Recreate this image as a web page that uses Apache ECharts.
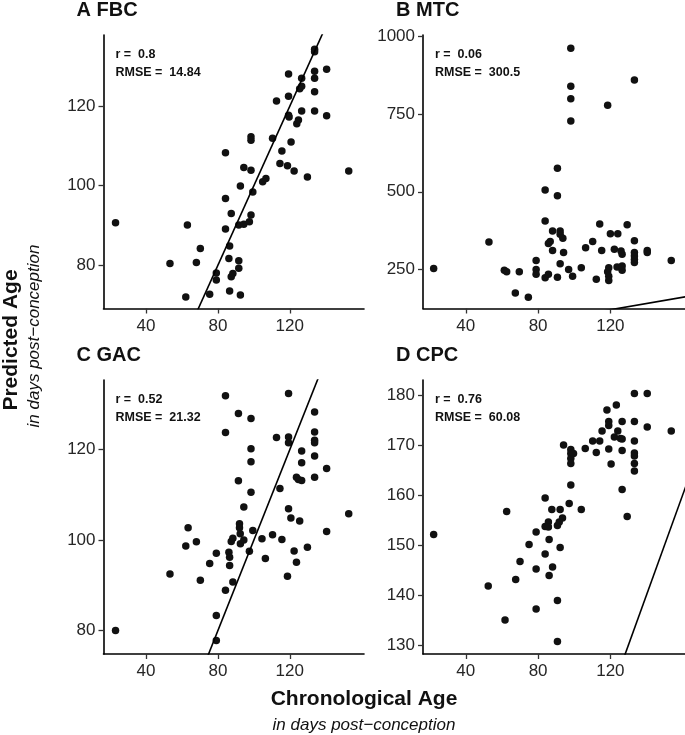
<!DOCTYPE html>
<html>
<head>
<meta charset="utf-8">
<script src="https://cdn.jsdelivr.net/npm/echarts@6/dist/echarts.min.js"></script>
<style>
html,body{margin:0;padding:0;background:#fff;}
#chart{width:685px;height:735px;}
</style>
</head>
<body>
<div id="chart"></div>
<script>
// ---------- data ----------
const panelTitles = ['A FBC', 'B MTC', 'C GAC', 'D CPC'];
const rValues = ['0.8', '0.06', '0.52', '0.76'];
const rmseValues = ['14.84', '300.5', '21.32', '60.08'];
const xTicks = [40, 80, 120];
const yTicksA = [80, 100, 120];
const yTicksB = [250, 500, 750, 1000];
const yTicksC = [80, 100, 120];
const yTicksD = [130, 140, 150, 160, 170, 180];

const fbcAge = [23.0,53.3,63.0,62.1,68.0,70.2,75.4,79.1,79.1,84.2,84.2,84.2,86.5,86.1,86.5,87.4,87.4,88.3,92.5,91.6,91.6,91.6,92.5,94.4,94.4,97.5,98.4,98.4,98.4,98.4,99.4,104.9,106.7,110.4,112.6,114.5,115.6,118.7,119.3,119.3,119.3,119.6,120.7,122.4,123.9,124.8,125.5,126.6,126.6,126.6,129.8,133.8,133.8,133.8,133.8,133.8,133.8,140.5,140.5,152.8];
const fbcPred = [90.7,80.4,90.1,72.0,80.7,84.2,72.7,78.0,76.3,108.3,96.8,89.1,84.8,81.7,73.5,93.0,77.1,77.9,99.9,90.1,81.1,79.2,72.5,104.6,90.3,90.9,92.6,103.9,112.3,111.4,98.4,101.0,101.8,111.9,121.3,105.6,108.7,105.0,128.1,122.5,117.7,117.3,111.0,103.7,115.6,116.5,124.4,125.0,127.0,118.8,102.2,134.3,133.7,128.8,127.0,123.6,118.8,129.3,117.6,103.7];

const mtcAge = [22.2,52.8,61.3,62.6,69.6,67.4,74.6,78.9,78.9,78.9,83.9,83.9,83.9,85.7,85.7,86.7,88.0,88.0,90.7,90.7,90.7,92.2,92.2,92.2,93.7,94.1,96.9,98.1,98.1,98.1,98.1,99.1,103.9,106.3,110.2,112.2,114.1,115.2,118.5,118.5,119.1,119.1,119.1,120.0,122.2,123.7,124.1,125.9,126.5,126.5,126.5,129.3,133.3,133.3,133.3,133.3,133.3,133.3,140.4,140.4,153.7];
const mtcPred = [253,338,247,242,242,174,160,279,250,234,506,406,223,234,333,340,374,311,576,487,225,374,363,268,350,304,250,962,840,800,728,228,255,320,340,218,396,311,779,242,255,228,214,365,315,258,365,309,299,247,261,394,860,342,304,293,282,272,311,304,279];

const gacAge = [23.0,53.3,62.1,63.4,68.0,70.2,75.4,79.1,79.1,79.1,84.2,84.2,84.2,86.1,86.5,86.5,87.4,88.3,88.3,91.4,91.4,92.0,92.0,92.4,92.5,94.4,94.4,97.5,98.4,98.4,98.4,98.4,99.4,104.5,106.4,110.4,112.6,114.5,115.6,118.7,119.3,119.3,119.3,119.3,120.6,122.4,123.7,123.7,124.8,125.5,126.6,126.6,126.6,129.8,133.8,133.8,133.8,133.8,133.8,133.8,140.5,140.5,152.8];
const gacPred = [80.0,92.5,98.7,102.7,99.6,91.1,94.8,97.1,83.3,77.8,131.9,123.8,88.9,97.3,96.2,94.4,99.7,100.4,90.7,128.0,113.1,103.6,102.7,101.4,99.2,107.3,100.0,97.5,126.9,120.2,117.3,110.6,102.1,100.3,95.9,101.2,122.7,111.4,100.1,92.0,132.4,122.8,121.5,106.9,104.9,97.6,95.1,113.9,113.4,104.2,119.7,117.1,113.2,98.4,128.3,123.9,122.1,121.5,118.6,113.9,115.8,101.9,105.8];

const cpcAge = [22.2,52.4,61.7,62.6,67.6,70.0,75.0,78.9,78.9,78.9,83.9,83.9,83.9,85.7,85.7,86.1,86.1,87.6,88.0,90.7,90.7,90.7,91.7,92.2,92.2,93.5,94.1,97.2,98.1,98.1,98.1,98.1,98.1,99.6,103.9,106.1,110.2,112.2,114.1,115.4,118.1,119.1,119.1,119.1,120.4,122.2,123.3,124.1,125.6,126.5,126.5,126.5,126.5,129.3,133.3,133.3,133.3,133.3,133.3,133.3,133.3,140.4,140.4,153.7];
const cpcPred = [152.1,141.8,135.0,156.7,143.1,146.7,150.1,152.6,145.2,137.2,159.4,153.7,148.2,154.6,153.6,151.1,143.9,157.1,145.6,153.9,138.9,130.7,154.6,157.1,149.5,155.4,170.0,158.3,169.1,168.3,167.3,166.3,162.0,168.3,157.1,169.3,170.8,168.5,170.8,172.8,177.0,174.7,173.9,169.2,166.2,171.6,178.0,172.8,171.3,174.7,171.2,168.9,161.1,155.7,180.3,174.7,170.8,168.4,167.8,166.3,164.8,180.3,173.6,172.8];

const xRange = [16.3, 161.3];
const yRangeA = [69.1, 137.9];
const yRangeB = [124, 1005];
const yRangeC = [74.8, 135.4];
const yRangeD = [128.2, 183.0];

// ---------- layout ----------
const FONT = "'Liberation Sans', Arial, Helvetica, sans-serif";
const grids = [
  {left: 103.5, top: 35, width: 260.5, height: 273.5},
  {left: 423, top: 35, width: 262, height: 273.5},
  {left: 103.5, top: 380, width: 260.5, height: 274},
  {left: 423, top: 380, width: 262, height: 274}
];
const panels = [
  {x: fbcAge, y: fbcPred, yr: yRangeA, yt: yTicksA},
  {x: mtcAge, y: mtcPred, yr: yRangeB, yt: yTicksB},
  {x: gacAge, y: gacPred, yr: yRangeC, yt: yTicksC},
  {x: cpcAge, y: cpcPred, yr: yRangeD, yt: yTicksD}
];

const axisLineStyle = {color: '#000', width: 1.6};
const xAxes = [], yAxes = [], series = [], graphics = [];
panels.forEach((p, i) => {
  xAxes.push({
    gridIndex: i, type: 'value', min: xRange[0], max: xRange[1],
    axisLine: {show: true, onZero: false, lineStyle: axisLineStyle},
    axisTick: {show: true, length: 5, lineStyle: {color: '#333', width: 1.3}, customValues: xTicks},
    axisLabel: {show: true, margin: 9, fontSize: 17, color: '#262626', fontFamily: FONT, customValues: xTicks,
      formatter: v => String(v)},
    splitLine: {show: false}
  });
  yAxes.push({
    gridIndex: i, type: 'value', min: p.yr[0], max: p.yr[1],
    axisLine: {show: true, onZero: false, lineStyle: axisLineStyle},
    axisTick: {show: true, length: 5, lineStyle: {color: '#333', width: 1.3}, customValues: p.yt},
    axisLabel: {show: true, margin: 8, fontSize: 17, color: '#262626', fontFamily: FONT, customValues: p.yt,
      formatter: v => String(v)},
    splitLine: {show: false}
  });
  series.push({
    type: 'scatter', xAxisIndex: i, yAxisIndex: i,
    data: p.x.map((v, k) => [v, p.y[k]]),
    symbol: 'circle', symbolSize: 7.5,
    itemStyle: {color: '#111', opacity: 1},
    silent: true, animation: false
  });
  const lo = Math.min(xRange[0], p.yr[0]) - 10;
  const hi = Math.max(xRange[1], p.yr[1]) + 10;
  series.push({
    type: 'line', xAxisIndex: i, yAxisIndex: i,
    data: [[lo, lo], [hi, hi]], clip: true,
    symbol: 'none', lineStyle: {color: '#000', width: 1.6},
    silent: true, animation: false
  });
  const g = grids[i];
  graphics.push({
    type: 'text', x: g.left - 27, y: g.top - 25,
    style: {text: panelTitles[i], font: 'bold 20px ' + FONT, fill: '#111', textVerticalAlign: 'middle'}
  });
  graphics.push({
    type: 'text', x: g.left + 12, y: g.top + 19.5,
    style: {text: 'r =  ' + rValues[i], font: 'bold 12.5px ' + FONT, fill: '#111', textVerticalAlign: 'middle'}
  });
  graphics.push({
    type: 'text', x: g.left + 12, y: g.top + 37.5,
    style: {text: 'RMSE =  ' + rmseValues[i], font: 'bold 12.5px ' + FONT, fill: '#111', textVerticalAlign: 'middle'}
  });
});

graphics.push({
  type: 'text', x: 364, y: 699,
  style: {text: 'Chronological Age', font: 'bold 21px ' + FONT, fill: '#111', textAlign: 'center', textVerticalAlign: 'middle'}
});
graphics.push({
  type: 'text', x: 364, y: 725,
  style: {text: 'in days post\u2212conception', font: 'italic 17px ' + FONT, fill: '#111', textAlign: 'center', textVerticalAlign: 'middle'}
});
graphics.push({
  type: 'text', x: 11, y: 340, rotation: Math.PI / 2,
  style: {text: 'Predicted Age', font: 'bold 21px ' + FONT, fill: '#111', textAlign: 'center', textVerticalAlign: 'middle'}
});
graphics.push({
  type: 'text', x: 34, y: 336, rotation: Math.PI / 2,
  style: {text: 'in days post\u2212conception', font: 'italic 17px ' + FONT, fill: '#111', textAlign: 'center', textVerticalAlign: 'middle'}
});

const chart = echarts.init(document.getElementById('chart'), null, {renderer: 'canvas'});
chart.setOption({
  animation: false,
  backgroundColor: '#fff',
  grid: grids.map(g => Object.assign({containLabel: false}, g)),
  xAxis: xAxes,
  yAxis: yAxes,
  series: series,
  graphic: graphics
});
</script>
</body>
</html>
